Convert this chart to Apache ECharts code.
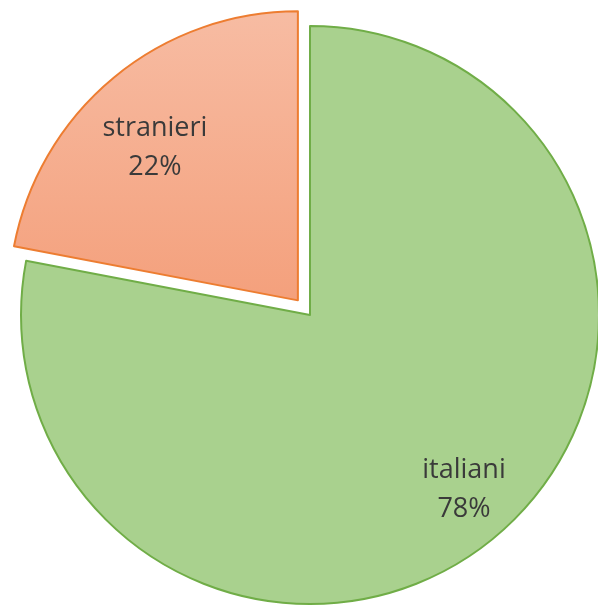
<!DOCTYPE html>
<html>
<head>
<meta charset="utf-8">
<script src="https://cdn.jsdelivr.net/npm/echarts@6/dist/echarts.min.js"></script>
<style>
html,body{margin:0;padding:0;background:#fff;}
#chart{width:598px;height:605px;}
</style>
</head>
<body>
<div id="chart"></div>
<script>
const categories = ['italiani', 'stranieri'];
const values = [78, 22];
const selectedFlags = [false, true];

const fills = [
  '#a9d18e',
  {type:'linear', x:0, y:0, x2:0, y2:1, colorStops:[{offset:0,color:'#f7bca3'},{offset:1,color:'#f4a07c'}]}
];
const borders = ['#70ad47', '#ed7d31'];
const labelShift = [[60, 61], [-49, -39]];

const chart = echarts.init(document.getElementById('chart'), null, {renderer:'canvas'});
chart.setOption({
  animation: false,
  backgroundColor: '#ffffff',
  series: [{
    type: 'pie',
    center: [310, 315],
    radius: 289,
    startAngle: 90,
    clockwise: true,
    selectedMode: 'multiple',
    selectedOffset: 19,
    avoidLabelOverlap: false,
    emphasis: {disabled: true},
    label: {
      show: true,
      position: 'inside',
      formatter: p => p.name + '\n' + Math.round(p.percent) + '%',
      fontFamily: '"Open Sans", sans-serif',
      fontSize: 27,
      lineHeight: 39,
      color: '#3a3a3a',
      align: 'center'
    },
    labelLine: {show: false},
    labelLayout: p => ({dx: labelShift[p.dataIndex][0], dy: labelShift[p.dataIndex][1]}),
    data: categories.map((c, i) => ({
      name: c,
      value: values[i],
      selected: selectedFlags[i],
      itemStyle: {color: fills[i], borderColor: borders[i], borderWidth: 2}
    }))
  }]
});
</script>
</body>
</html>
